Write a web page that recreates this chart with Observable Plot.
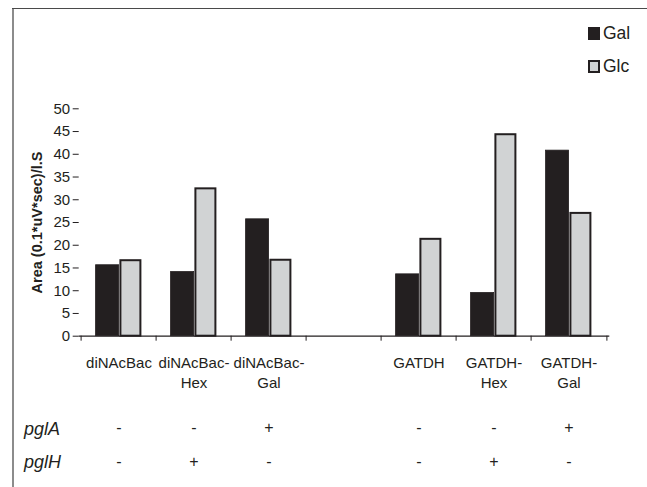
<!DOCTYPE html>
<html>
<head>
<meta charset="utf-8">
<script src="https://cdn.jsdelivr.net/npm/d3@7"></script>
<script src="https://cdn.jsdelivr.net/npm/@observablehq/plot@0.6"></script>
<style>
  html, body { margin: 0; padding: 0; background: #fff; }
  #wrap { position: relative; width: 647px; height: 487px; overflow: hidden; font-family: "Liberation Sans", Arial, sans-serif; color: #231f20; }
  #wrap svg { position: absolute; left: 0; top: 0; }
  #wrap svg g[aria-label="y-axis tick label"] text { font-size: 15px; }
  #wrap svg g[aria-label="y-axis label"] text { font-weight: bold; font-size: 14.5px; }
  .bl { position: absolute; left: 12px; top: 8px; width: 1.5px; height: 479px; background: #8c8c8c; }
  .bt { position: absolute; left: 12px; top: 7.5px; width: 635px; height: 1.5px; background: #4a4a4a; }
  .row { position: absolute; font-style: italic; font-size: 18px; line-height: 1; }
  .leg { position: absolute; left: 588px; font-size: 17.5px; display: flex; align-items: center; line-height: 1; }
  .sw { width: 12px; height: 13px; margin-right: 3px; box-sizing: border-box; }
</style>
</head>
<body>
<div id="wrap">
  <div class="bl"></div>
  <div class="bt"></div>
</div>
<script>
// ---- data ----
const categories = ["diNAcBac", "diNAcBac-Hex", "diNAcBac-Gal", "gap", "GATDH", "GATDH-Hex", "GATDH-Gal"];
const catLabels  = ["diNAcBac", "diNAcBac-\nHex", "diNAcBac-\nGal", "", "GATDH", "GATDH-\nHex", "GATDH-\nGal"];
const series = ["Gal", "Glc"];
const galValues = [15.6, 14.1, 25.7, null, 13.6, 9.5, 40.8];
const glcValues = [16.6, 32.4, 16.7, null, 21.3, 44.3, 27.0];
const pglA = ["-", "-", "+", "", "-", "-", "+"];
const pglH = ["-", "+", "-", "", "-", "+", "-"];
const yTicks = [0, 5, 10, 15, 20, 25, 30, 35, 40, 45, 50];
const yLabel = "Area (0.1*uV*sec)/l.S";
const colors = {Gal: "#231f20", Glc: "#d1d3d4"};

const gal = categories.map((c, i) => ({cat: c, v: galValues[i]})).filter(d => d.v != null);
const glc = categories.map((c, i) => ({cat: c, v: glcValues[i]})).filter(d => d.v != null);
const labels = categories.map((c, i) => ({cat: c, label: catLabels[i], a: pglA[i], h: pglH[i]}));

const ink = "#231f20";
const W = 647, H = 487;
const mL = 78.7, mR = 37.7, mT = 108.3, mB = 151.3;
const bw = (W - mL - mR) / categories.length;

const plot = Plot.plot({
  width: W,
  height: H,
  marginLeft: mL,
  marginRight: mR,
  marginTop: mT,
  marginBottom: mB,
  style: {fontFamily: "'Liberation Sans', Arial, sans-serif", fontSize: "14px", color: ink, background: "transparent"},
  x: {type: "band", domain: categories, padding: 0, axis: null, label: null},
  y: {domain: [0, 50], axis: null},
  marks: [
    Plot.barY(gal, {x: "cat", y: "v", fill: colors.Gal, stroke: ink, strokeWidth: 0.8, insetLeft: 14.6, insetRight: 37.4}),
    Plot.barY(glc, {x: "cat", y: "v", fill: colors.Glc, stroke: ink, strokeWidth: 2, insetLeft: 39.4, insetRight: 15.6}),
    Plot.axisY({ticks: yTicks, tickSize: 6, tickPadding: 3, fontSize: 15, stroke: ink, fill: ink,
                label: yLabel, labelAnchor: "center", labelArrow: "none", labelOffset: 47}),
    Plot.ruleX([0], {frameAnchor: "left", stroke: ink, strokeWidth: 1.2}),
    Plot.ruleY([0], {stroke: ink, strokeWidth: 1.2}),
    // boundary ticks (Excel style: between categories)
    Plot.axisX({tickSize: 5, dx: -bw / 2, text: null, label: null, stroke: ink}),
    Plot.axisX({ticks: [categories[categories.length - 1]], tickSize: 5, dx: bw / 2, text: null, label: null, stroke: ink}),
    // category labels
    Plot.text(labels, {x: "cat", text: "label", frameAnchor: "bottom", lineAnchor: "top", dy: 17.5, fontSize: 15, lineHeight: 1.33, fill: ink}),
    // pglA / pglH rows
    Plot.text(labels, {x: "cat", text: "a", frameAnchor: "bottom", lineAnchor: "middle", dy: 92, fontSize: 16, fill: ink}),
    Plot.text(labels, {x: "cat", text: "h", frameAnchor: "bottom", lineAnchor: "middle", dy: 126, fontSize: 16, fill: ink})
  ]
});

const wrap = document.getElementById("wrap");
wrap.appendChild(plot);

function addDiv(cls, html, style) {
  const d = document.createElement("div");
  d.className = cls;
  d.innerHTML = html;
  Object.assign(d.style, style);
  wrap.appendChild(d);
  return d;
}
addDiv("row", "pglA", {left: "24px", top: "420px"});
addDiv("row", "pglH", {left: "24px", top: "453px"});
series.forEach((s, i) => {
  const border = s === "Glc" ? "2px solid " + ink : "none";
  addDiv("leg", `<span class="sw" style="background:${colors[s]};border:${border}"></span>${s}`,
         {top: (i === 0 ? 25 : 58) + "px"});
});
</script>
</body>
</html>
